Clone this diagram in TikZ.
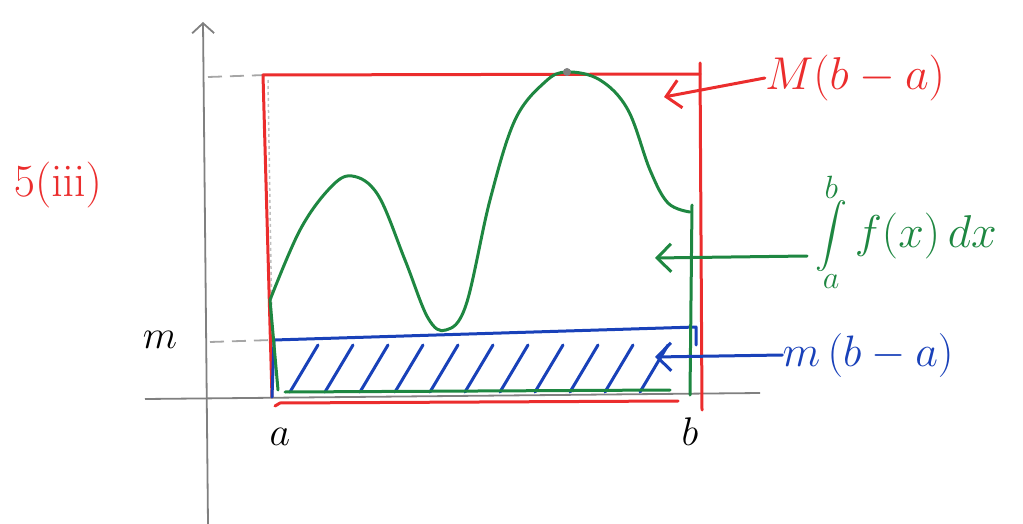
\RequirePackage{fix-cm}
\documentclass[tikz,border=0pt]{standalone}
\usepackage{tikz}
\usetikzlibrary{arrows.meta}

\definecolor{penred}{RGB}{235,45,45}
\definecolor{pengreen}{RGB}{30,135,65}
\definecolor{penblue}{RGB}{25,65,185}

\newcommand{\bigint}{\mathop{\vcenter{\hbox{\scalebox{3.2}{$\displaystyle\int$}}}}\limits}

\begin{document}
\begin{tikzpicture}[x=1pt, y=-1pt]
  % Styles
  \tikzset{
    axe/.style={gray, line width=1.8pt},
    guide/.style={gray!70, line width=1.8pt, dash pattern=on 14pt off 8pt},
    pen/.style={line width=3pt, line cap=round, line join=round},
    lab/.style={inner sep=0pt, font=\fontsize{40}{46}\selectfont},
    tip/.style={-{Straight Barb[length=14pt, width=28pt]}, pen},
  }
  \useasboundingbox (0,0) rectangle (1023,524);

  % Axes
  \coordinate (ybot) at (208,524);
  \coordinate (ytop) at (203,22);
  \coordinate (xl) at (145,399);
  \coordinate (xr) at (760,393);
  \draw[axe, -{Straight Barb[length=10pt, width=22pt]}] (ybot) -- (ytop);
  \draw[axe] (xl) -- (xr);

  % Niveaux M et m
  \draw[guide] (208,77) -- (266,75);
  \draw[guide] (210,342) -- (272,340);
  \draw[gray!50, line width=1.5pt, dashed] (268,80) -- (272,330);

  % Rectangle M(b-a)
  \draw[penred, pen] (700,63) -- (702,410);
  \draw[penred, pen] (700,74) -- (263,75) -- (272,397);
  \draw[penred, pen] (275,406) -- (280,403) -- (678,401);

  % Rectangle m(b-a) et hachures
  \draw[penblue, pen] (272,397) -- (274,340) -- (696,327) -- (696,345);
  \foreach \x in {290,325,360,395,430,465,500,535,570,605,640}
    \draw[penblue, pen] (\x,392) -- (\x+28,345);

  % Courbe f
  \draw[pengreen, pen] plot[smooth, tension=0.6] coordinates {
    (270,300) (300,230) (330,188) (352,176) (378,195)
    (405,260) (428,318) (446,330) (466,305) (490,200)
    (515,120) (545,82) (567,72) (600,80) (628,110)
    (650,170) (668,203) (690,212)};
  \fill[gray] (567,72) circle (4pt);
  \draw[pengreen, pen] (270,300) -- (278,390);
  \draw[pengreen, pen] (692,205) -- (690,395);
  \draw[pengreen, pen] (285,392) -- (670,390);

  % Etiquettes
  \node[lab, penred, font=\fontsize{46}{52}\selectfont] (quest) at (58,185) {$5(\mathrm{iii})$};
  \node[lab] (lm) at (160,340) {$m$};
  \node[lab] (la) at (280,437) {$a$};
  \node[lab] (lb) at (690,432) {$b$};
  \node[lab, penred, font=\fontsize{46}{52}\selectfont] (big) at (855,78) {$M(b-a)$};
  \node[lab, pengreen, font=\fontsize{46}{52}\selectfont, anchor=west] (aire) at (815,232) {$\bigint_a^b f(x)\,dx$};
  \node[lab, penblue, font=\fontsize{44}{50}\selectfont] (small) at (868,355) {$m\,(b-a)$};

  % Fleches
  \coordinate (pbig) at (664,97);
  \coordinate (paire) at (655,258);
  \coordinate (psmall) at (655,357);
  \draw[penred, tip] (big.west) -- (pbig);
  \draw[pengreen, tip] (aire.west) ++(-8,24) -- (paire);
  \draw[penblue, tip] (small.west) -- (psmall);

\end{tikzpicture}
\end{document}
